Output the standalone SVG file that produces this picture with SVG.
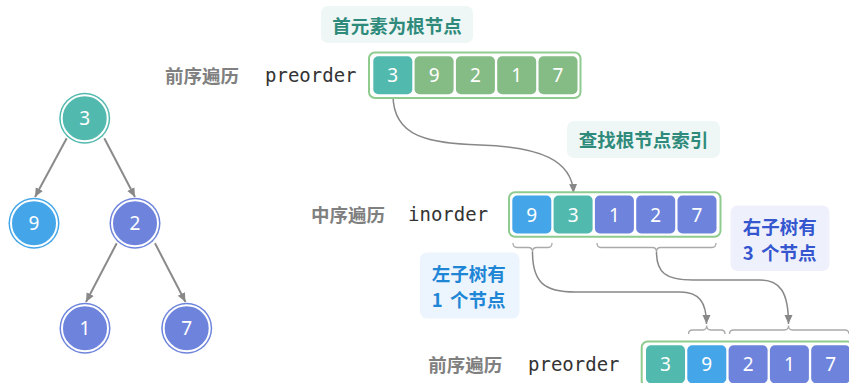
<svg xmlns="http://www.w3.org/2000/svg" width="849" height="383" viewBox="0 0 849 383">
<defs>
<marker id="arr" markerUnits="userSpaceOnUse" markerWidth="10" markerHeight="10" viewBox="0 0 10 10" refX="9" refY="5" orient="auto">
<path d="M0,1 L9,5 L0,9 z" fill="#888"/>
</marker>
<style>
.cjk{font-family:"Noto Sans CJK SC","Noto Sans",sans-serif;font-weight:bold;font-size:18.5px;dominant-baseline:central}
.gl{fill:#808080}
.mono{font-family:"DejaVu Sans Mono","Liberation Mono",monospace;font-size:19px;fill:#333;dominant-baseline:central}
.num{font-family:"Noto Sans","Open Sans",sans-serif;font-size:19px;fill:#fff;text-anchor:middle;dominant-baseline:central}
.box{fill:#fff;stroke:#8fcb8f;stroke-width:2}
.teal{fill:#52b9ae}
.green{fill:#85bb85}
.blue{fill:#44a6e8}
.purple{fill:#6e84dc}
.ring{fill:none;stroke:#fff;stroke-width:2}
.edge{stroke:#8a8a8a;stroke-width:2;fill:none}
.conn{stroke:#888;stroke-width:1.5;fill:none}
.brace{stroke:#aaa;stroke-width:1.3;fill:none}
</style>
</defs>

<g id="connectors">
<line class="edge" x1="66.7" y1="138.3" x2="35" y2="197" marker-end="url(#arr)"/>
<line class="edge" x1="104.3" y1="138.3" x2="135" y2="197" marker-end="url(#arr)"/>
<line class="edge" x1="116.7" y1="243.3" x2="86" y2="302" marker-end="url(#arr)"/>
<line class="edge" x1="155" y1="243.3" x2="185.5" y2="302" marker-end="url(#arr)"/>
<path class="conn" d="M393 95 C393 138 430 143 480 145 C540 147 572 160 573.5 193" marker-end="url(#arr)"/>
<path class="brace" d="M513 243 Q513 247.5 517 247.5 H528.5 Q532.5 247.5 532.5 252 Q532.5 247.5 536.5 247.5 H548 Q552 247.5 552 243"/>
<path class="brace" d="M597 243 Q597 247.5 601 247.5 H652.5 Q656.5 247.5 656.5 252 Q656.5 247.5 660.5 247.5 H712 Q716 247.5 716 243"/>
<path class="brace" d="M688.5 334 Q688.5 330 692.5 330 H702.7 Q706.7 330 706.7 325.5 Q706.7 330 710.7 330 H721 Q725 330 725 334"/>
<path class="brace" d="M729.5 334 Q729.5 330 733.5 330 H784.5 Q788.5 330 788.5 325.5 Q788.5 330 792.5 330 H845 Q849 330 849 334"/>
<path class="conn" d="M532.5 252 C532.5 283 545 292 575 292 L680 292 C699 292 706.5 302 706.5 324" marker-end="url(#arr)"/>
<path class="conn" d="M656.5 252 C656.5 272 665 280 693 280 L760 280 C780 280 788.5 292 788.5 324" marker-end="url(#arr)"/>
</g>

<g id="node-3"><circle class="teal" cx="84.7" cy="118.3" r="25.5"/><circle class="ring" cx="84.7" cy="118.3" r="23"/><text class="num" x="84.7" y="118.3">3</text></g>
<g id="node-9"><circle class="blue" cx="34" cy="223.3" r="25.5"/><circle class="ring" cx="34" cy="223.3" r="23"/><text class="num" x="34" y="223.3">9</text></g>
<g id="node-2"><circle class="purple" cx="135" cy="223.3" r="25.5"/><circle class="ring" cx="135" cy="223.3" r="23"/><text class="num" x="135" y="223.3">2</text></g>
<g id="node-1"><circle class="purple" cx="85" cy="328.3" r="25.5"/><circle class="ring" cx="85" cy="328.3" r="23"/><text class="num" x="85" y="328.3">1</text></g>
<g id="node-7"><circle class="purple" cx="186.7" cy="328.3" r="25.5"/><circle class="ring" cx="186.7" cy="328.3" r="23"/><text class="num" x="186.7" y="328.3">7</text></g>

<g id="label-root">
<rect x="321" y="6" width="152" height="37" rx="7" fill="#eef7f5"/>
<text class="cjk" x="397" y="25" text-anchor="middle" fill="#2e8a7b">首元素为根节点</text>
</g>
<g id="label-find">
<rect x="567" y="121" width="153" height="37" rx="7" fill="#eef7f5"/>
<text class="cjk" x="643.5" y="139" text-anchor="middle" fill="#2e8a7b">查找根节点索引</text>
</g>
<g id="label-right">
<rect x="730.5" y="205.5" width="99" height="65.5" rx="7" fill="#eef1fb"/>
<text class="cjk" x="742.7" y="225.5" fill="#3556cf">右子树有</text>
<text class="cjk" x="742.7" y="251.5" fill="#3556cf">3 <tspan x="761">个节点</tspan></text>
</g>
<g id="label-left">
<rect x="420" y="252.5" width="99.5" height="66" rx="7" fill="#ecf5fd"/>
<text class="cjk" x="431.7" y="272.5" fill="#1f86d6">左子树有</text>
<text class="cjk" x="431.7" y="298.5" fill="#1f86d6">1 <tspan x="450">个节点</tspan></text>
</g>

<g id="preorder-top">
<text class="cjk gl" x="165" y="75">前序遍历</text>
<text class="mono" x="265" y="75">preorder</text>
<rect class="box" x="369" y="52.5" width="211.5" height="45.5" rx="6"/>
<rect class="teal" x="373.3" y="56.3" width="39" height="38" rx="5"/>
<rect class="green" x="414.6" y="56.3" width="39" height="38" rx="5"/>
<rect class="green" x="455.9" y="56.3" width="39" height="38" rx="5"/>
<rect class="green" x="497.2" y="56.3" width="39" height="38" rx="5"/>
<rect class="green" x="538.5" y="56.3" width="39" height="38" rx="5"/>
<text class="num" x="392.8" y="75.3">3</text>
<text class="num" x="434.1" y="75.3">9</text>
<text class="num" x="475.4" y="75.3">2</text>
<text class="num" x="516.7" y="75.3">1</text>
<text class="num" x="558" y="75.3">7</text>
</g>

<g id="inorder">
<text class="cjk gl" x="311" y="214">中序遍历</text>
<text class="mono" x="408" y="214">inorder</text>
<rect class="box" x="509" y="192.3" width="211.5" height="44.5" rx="6"/>
<rect class="blue" x="512.3" y="195.5" width="39" height="38" rx="5"/>
<rect class="teal" x="553.6" y="195.5" width="39" height="38" rx="5"/>
<rect class="purple" x="594.9" y="195.5" width="39" height="38" rx="5"/>
<rect class="purple" x="636.2" y="195.5" width="39" height="38" rx="5"/>
<rect class="purple" x="677.5" y="195.5" width="39" height="38" rx="5"/>
<text class="num" x="531.8" y="214.5">9</text>
<text class="num" x="573.1" y="214.5">3</text>
<text class="num" x="614.4" y="214.5">1</text>
<text class="num" x="655.7" y="214.5">2</text>
<text class="num" x="697" y="214.5">7</text>
</g>

<g id="preorder-bottom">
<text class="cjk gl" x="428.3" y="364">前序遍历</text>
<text class="mono" x="528" y="364">preorder</text>
<rect class="box" x="641.7" y="341.5" width="211.5" height="45.5" rx="6"/>
<rect class="teal" x="646" y="345.3" width="39" height="38" rx="5"/>
<rect class="blue" x="687.3" y="345.3" width="39" height="38" rx="5"/>
<rect class="purple" x="728.6" y="345.3" width="39" height="38" rx="5"/>
<rect class="purple" x="769.9" y="345.3" width="39" height="38" rx="5"/>
<rect class="purple" x="811.2" y="345.3" width="39" height="38" rx="5"/>
<text class="num" x="665.5" y="364.3">3</text>
<text class="num" x="706.8" y="364.3">9</text>
<text class="num" x="748.1" y="364.3">2</text>
<text class="num" x="789.4" y="364.3">1</text>
<text class="num" x="830.7" y="364.3">7</text>
</g>
</svg>
